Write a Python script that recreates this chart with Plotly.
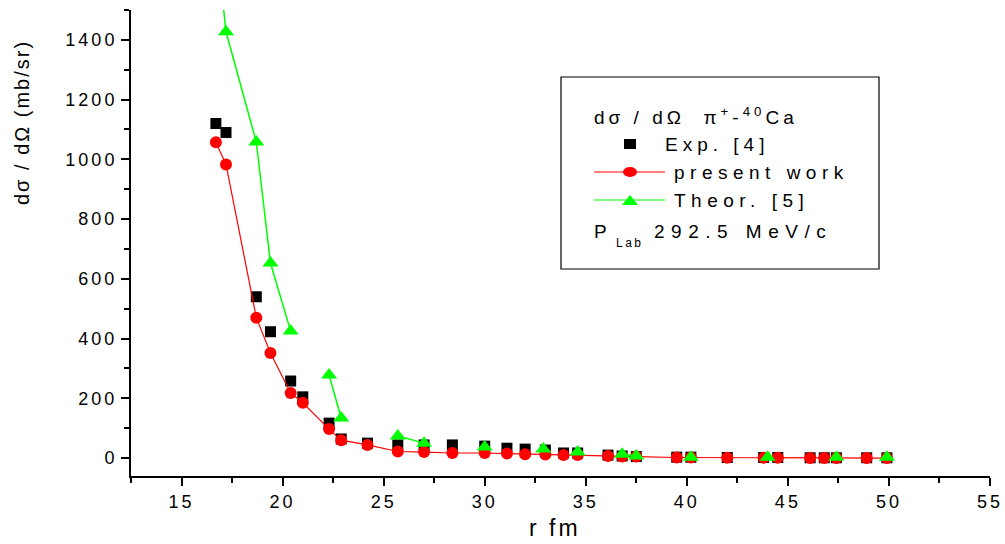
import plotly.graph_objects as go

# ---------------- data ----------------
r_exp = [16.7, 17.2, 18.7, 19.4, 20.4, 21.0, 22.3, 22.9, 24.2, 25.7, 27.0, 28.4,
         30.0, 31.1, 32.0, 33.0, 33.9, 34.6, 36.1, 36.8, 37.5, 39.5, 40.2, 42.0,
         43.8, 44.5, 46.1, 46.8, 47.4, 48.9, 49.9]
xs_exp = [1120, 1090, 540, 423, 258, 205, 117, 64, 50, 44, 44, 44,
          40, 33, 30, 27, 17, 17, 10, 7, 5, 3, 3, 2,
          2, 2, 1, 1, 1, 1, 1]

r_present = [16.7, 17.2, 18.7, 19.4, 20.4, 21.0, 22.3, 22.9, 24.2, 25.7, 27.0, 28.4,
             30.0, 31.1, 32.0, 33.0, 33.9, 34.6, 36.1, 36.8, 37.5, 39.5, 40.2, 42.0,
             43.8, 44.5, 46.1, 46.8, 47.4, 48.9, 49.9]
xs_present = [1057, 983, 470, 352, 218, 185, 97, 60, 44, 22, 20, 17,
              17, 15, 13, 12, 10, 10, 7, 5, 5, 2, 2, 1,
              1, 1, 0.5, 0.5, 0.5, 0, 0]

r_theor = [16.7, 17.2, 18.7, 19.4, 20.4, 21.0, 22.3, 22.9, 24.2, 25.7, 27.0, 28.4,
           30.0, 31.1, 32.9, 33.9, 34.6, 36.1, 36.8, 37.5, 39.5, 40.2, 42.0, 44.0,
           46.1, 47.4, 48.9, 49.9]
xs_theor = [1750, 1427, 1058, 653, 425, None, 278, 134, None, 74, 50, None,
            37, None, 30, None, 20, None, 13, 7, None, 3, None, 3,
            None, 3, None, 3]

x_ticks = [15, 20, 25, 30, 35, 40, 45, 50, 55]
y_ticks = [0, 200, 400, 600, 800, 1000, 1200, 1400]

# ---------------- layout helpers ----------------
W, H = 1005, 544
L, R, T, B = 131, 990, 10, 476
FONT = "Liberation Sans, Arial, Helvetica, sans-serif"


def fx(px):
    return (px - L) / (R - L)


def fy(py):
    return (B - py) / (B - T)


def sp(text, s):
    return f"<span style='letter-spacing:{s}px'>{text}</span>"


fig = go.Figure()

fig.add_trace(go.Scatter(
    x=r_exp, y=xs_exp, mode="markers", name="Exp. [4]",
    marker=dict(symbol="square", size=11, color="black", line=dict(width=0)),
    cliponaxis=True))
fig.add_trace(go.Scatter(
    x=r_present, y=xs_present, mode="lines+markers", name="present work",
    line=dict(color="#ff0000", width=1.2),
    marker=dict(symbol="circle", size=12, color="#ff0000", line=dict(width=0)),
    cliponaxis=True))
fig.add_trace(go.Scatter(
    x=r_theor, y=xs_theor, mode="lines+markers", name="Theor. [5]",
    connectgaps=False,
    line=dict(color="#00ff00", width=1.5),
    marker=dict(symbol="triangle-up", size=14, color="#00ff00", line=dict(width=0)),
    cliponaxis=True))

axis_common = dict(
    showline=True, linecolor="black", linewidth=2, mirror=False,
    showgrid=False, zeroline=False, automargin=False,
    ticks="outside", ticklen=8, tickwidth=2, tickcolor="black",
    tickfont=dict(family=FONT, size=18, color="black"),
)

fig.update_xaxes(
    range=[12.5, 55], tickmode="array", tickvals=x_ticks,
    ticktext=[sp(str(v), 3) for v in x_ticks],
    minor=dict(tickmode="linear", tick0=0, dtick=2.5, ticks="outside",
               ticklen=5, tickwidth=1.5, tickcolor="black"),
    **axis_common)
fig.update_yaxes(
    range=[-60, 1500], tickmode="array", tickvals=y_ticks,
    ticktext=[sp(str(v), 3) for v in y_ticks],
    minor=dict(tickmode="linear", tick0=0, dtick=100, ticks="outside",
               ticklen=5, tickwidth=1.5, tickcolor="black"),
    **axis_common)

shapes = []
annotations = []

# axis titles
annotations.append(dict(
    text=sp("dσ / dΩ (mb/sr)", 2), x=fx(22), y=fy(123), xref="paper", yref="paper",
    textangle=-90, showarrow=False, xanchor="center", yanchor="middle",
    font=dict(family=FONT, size=20, color="black")))
annotations.append(dict(
    text=sp("r fm", 3), x=fx(555), y=fy(528), xref="paper", yref="paper",
    showarrow=False, xanchor="center", yanchor="middle",
    font=dict(family=FONT, size=23, color="black")))

# legend box
shapes.append(dict(type="rect", xref="paper", yref="paper",
                   x0=fx(561), x1=fx(879), y0=fy(269), y1=fy(77),
                   line=dict(color="black", width=1.2), fillcolor="rgba(0,0,0,0)"))

LF = dict(family=FONT, size=19, color="black")
NB = "\u00a0"
annotations.append(dict(
    text=sp(f"dσ / dΩ{NB}{NB}π<sup>+</sup>-<sup>40</sup>Ca", 4), x=fx(592), y=fy(116),
    xref="paper", yref="paper", showarrow=False, xanchor="left", yanchor="middle", font=LF))

# Exp. glyph
shapes.append(dict(type="rect", xref="paper", yref="paper",
                   x0=fx(624), x1=fx(636), y0=fy(149), y1=fy(139),
                   line=dict(width=0), fillcolor="black"))
annotations.append(dict(
    text=sp("Exp. [4]", 5), x=fx(663), y=fy(144), xref="paper", yref="paper",
    showarrow=False, xanchor="left", yanchor="middle", font=LF))

# present work glyph
shapes.append(dict(type="line", xref="paper", yref="paper",
                   x0=fx(594), x1=fx(665), y0=fy(172), y1=fy(172),
                   line=dict(color="#ff0000", width=1.2)))
shapes.append(dict(type="circle", xref="paper", yref="paper",
                   x0=fx(623), x1=fx(637), y0=fy(177), y1=fy(167),
                   line=dict(width=0), fillcolor="#ff0000"))
annotations.append(dict(
    text=sp("present work", 5.5), x=fx(672), y=fy(172), xref="paper", yref="paper",
    showarrow=False, xanchor="left", yanchor="middle", font=LF))

# Theor. glyph
shapes.append(dict(type="line", xref="paper", yref="paper",
                   x0=fx(594), x1=fx(665), y0=fy(200), y1=fy(200),
                   line=dict(color="#00ff00", width=1.2)))
shapes.append(dict(type="path", xref="paper", yref="paper",
                   path=f"M {fx(622)},{fy(205)} L {fx(638)},{fy(205)} L {fx(630)},{fy(195)} Z",
                   line=dict(width=0), fillcolor="#00ff00"))
annotations.append(dict(
    text=sp("Theor. [5]", 5.5), x=fx(672), y=fy(200), xref="paper", yref="paper",
    showarrow=False, xanchor="left", yanchor="middle", font=LF))

# P_Lab line
annotations.append(dict(
    text="P", x=fx(592), y=fy(231), xref="paper", yref="paper",
    showarrow=False, xanchor="left", yanchor="middle", font=LF))
annotations.append(dict(
    text=sp("Lab", 2.5), x=fx(614), y=fy(243), xref="paper", yref="paper",
    showarrow=False, xanchor="left", yanchor="middle",
    font=dict(family=FONT, size=12, color="black")))
annotations.append(dict(
    text=sp("292.5 MeV/c", 6.5), x=fx(652), y=fy(231), xref="paper", yref="paper",
    showarrow=False, xanchor="left", yanchor="middle", font=LF))

fig.update_layout(
    width=W, height=H, autosize=False,
    margin=dict(l=L, r=W - R, t=T, b=H - B, pad=0, autoexpand=False),
    paper_bgcolor="white", plot_bgcolor="white",
    showlegend=False,
    font=dict(family=FONT, color="black"),
    shapes=shapes, annotations=annotations,
)

fig.write_html("out.html")
